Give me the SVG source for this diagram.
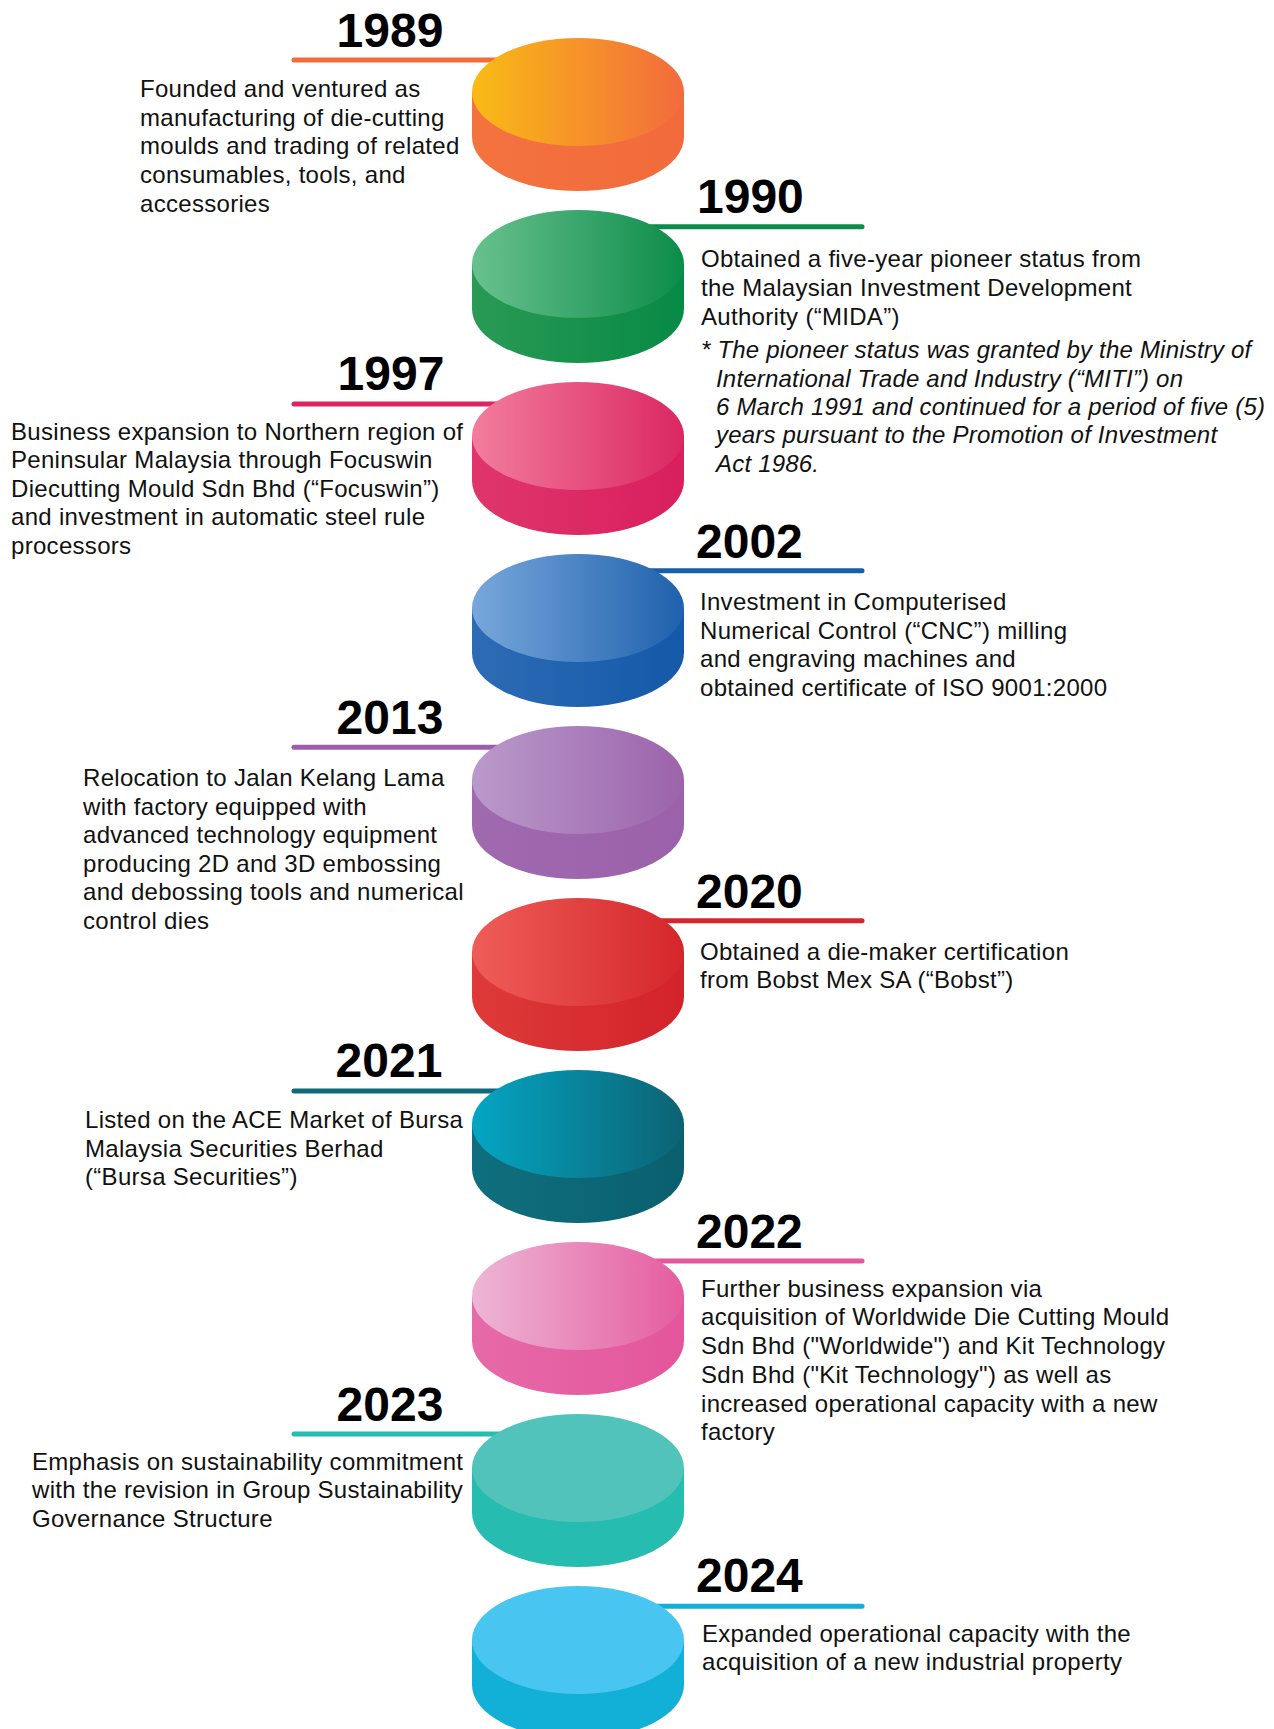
<svg xmlns="http://www.w3.org/2000/svg" width="1274" height="1729" viewBox="0 0 1274 1729">
<style>
.yr{font-family:"Liberation Sans",Arial,sans-serif;font-weight:bold;font-size:48px;fill:#000}
.yl{text-anchor:middle}
.tx{font-family:"Liberation Sans",Arial,sans-serif;font-size:24px;fill:#111;letter-spacing:0.3px}
.it{font-style:italic;letter-spacing:0.2px}
.ln{stroke-width:5;stroke-linecap:round;fill:none}
</style>
<defs>
<linearGradient id="t0"><stop offset="0" stop-color="#F9BB15"/><stop offset="1" stop-color="#F26B3D"/></linearGradient>
<linearGradient id="s0"><stop offset="0" stop-color="#F3733F"/><stop offset="1" stop-color="#F26A3B"/></linearGradient>
<linearGradient id="t1"><stop offset="0" stop-color="#69C18E"/><stop offset="1" stop-color="#0C8C49"/></linearGradient>
<linearGradient id="s1"><stop offset="0" stop-color="#2A9A55"/><stop offset="1" stop-color="#068A45"/></linearGradient>
<linearGradient id="t2"><stop offset="0" stop-color="#F27D9D"/><stop offset="1" stop-color="#DB2762"/></linearGradient>
<linearGradient id="s2"><stop offset="0" stop-color="#DF356C"/><stop offset="1" stop-color="#D91F5E"/></linearGradient>
<linearGradient id="t3"><stop offset="0" stop-color="#78A7DB"/><stop offset="1" stop-color="#1F61AD"/></linearGradient>
<linearGradient id="s3"><stop offset="0" stop-color="#2E6BB5"/><stop offset="1" stop-color="#1359A8"/></linearGradient>
<linearGradient id="t4"><stop offset="0" stop-color="#B99ACB"/><stop offset="1" stop-color="#9C63AB"/></linearGradient>
<linearGradient id="s4"><stop offset="0" stop-color="#A06AAF"/><stop offset="1" stop-color="#9B61AA"/></linearGradient>
<linearGradient id="t5"><stop offset="0" stop-color="#EF5D59"/><stop offset="1" stop-color="#D4262B"/></linearGradient>
<linearGradient id="s5"><stop offset="0" stop-color="#DE3A39"/><stop offset="1" stop-color="#D2232A"/></linearGradient>
<linearGradient id="t6"><stop offset="0" stop-color="#04A6C4"/><stop offset="1" stop-color="#0C6273"/></linearGradient>
<linearGradient id="s6"><stop offset="0" stop-color="#0F6F7E"/><stop offset="1" stop-color="#0A5F6E"/></linearGradient>
<linearGradient id="t7"><stop offset="0" stop-color="#EDB6D6"/><stop offset="1" stop-color="#E55C9F"/></linearGradient>
<linearGradient id="s7"><stop offset="0" stop-color="#E66AA8"/><stop offset="1" stop-color="#E4559C"/></linearGradient>
</defs>
<rect width="1274" height="1729" fill="#fff"/>
<g id="connectors">
<line class="ln" x1="294" y1="60" x2="520" y2="60" stroke="#F26B3A"/>
<line class="ln" x1="640" y1="226.7" x2="862" y2="226.7" stroke="#0E8B4C"/>
<line class="ln" x1="294" y1="404" x2="520" y2="404" stroke="#DB2461"/>
<line class="ln" x1="640" y1="570.7" x2="862" y2="570.7" stroke="#1A5EAA"/>
<line class="ln" x1="294" y1="747.3" x2="520" y2="747.3" stroke="#9B5FA9"/>
<line class="ln" x1="640" y1="920.7" x2="862" y2="920.7" stroke="#D7252D"/>
<line class="ln" x1="294" y1="1091" x2="520" y2="1091" stroke="#106878"/>
<line class="ln" x1="640" y1="1261" x2="862" y2="1261" stroke="#E4579D"/>
<line class="ln" x1="294" y1="1434" x2="520" y2="1434" stroke="#26BCAF"/>
<line class="ln" x1="640" y1="1606.3" x2="862" y2="1606.3" stroke="#12AFD6"/>
</g>
<g id="node-1989">
<path d="M472 92 L472 137 A106 54 0 0 0 684 137 L684 92 Z" fill="url(#s0)"/>
<ellipse cx="578" cy="92" rx="106" ry="54" fill="url(#t0)"/>
<text class="yr yl" x="390" y="46.7">1989</text>
<text class="tx" x="140" y="97">Founded and ventured as</text>
<text class="tx" x="140" y="125.7">manufacturing of die-cutting</text>
<text class="tx" x="140" y="154.4">moulds and trading of related</text>
<text class="tx" x="140" y="183.1">consumables, tools, and</text>
<text class="tx" x="140" y="211.8">accessories</text>
</g>
<g id="node-1990">
<path d="M472 264 L472 309 A106 54 0 0 0 684 309 L684 264 Z" fill="url(#s1)"/>
<ellipse cx="578" cy="264" rx="106" ry="54" fill="url(#t1)"/>
<text class="yr" x="697" y="213.3">1990</text>
<text class="tx" x="701" y="267.3">Obtained a five-year pioneer status from</text>
<text class="tx" x="701" y="296">the Malaysian Investment Development</text>
<text class="tx" x="701" y="324.7">Authority (“MIDA”)</text>
<text class="tx it" x="701" y="358.3">* The pioneer status was granted by the Ministry of</text>
<text class="tx it" x="716" y="386.7">International Trade and Industry (“MITI”) on</text>
<text class="tx it" x="716" y="415">6 March 1991 and continued for a period of five (5)</text>
<text class="tx it" x="716" y="443.3">years pursuant to the Promotion of Investment</text>
<text class="tx it" x="716" y="471.7">Act 1986.</text>
</g>
<g id="node-1997">
<path d="M472 436 L472 481 A106 54 0 0 0 684 481 L684 436 Z" fill="url(#s2)"/>
<ellipse cx="578" cy="436" rx="106" ry="54" fill="url(#t2)"/>
<text class="yr yl" x="391" y="390">1997</text>
<text class="tx" x="11" y="440">Business expansion to Northern region of</text>
<text class="tx" x="11" y="468.4">Peninsular Malaysia through Focuswin</text>
<text class="tx" x="11" y="496.8">Diecutting Mould Sdn Bhd (“Focuswin”)</text>
<text class="tx" x="11" y="525.2">and investment in automatic steel rule</text>
<text class="tx" x="11" y="553.6">processors</text>
</g>
<g id="node-2002">
<path d="M472 608 L472 653 A106 54 0 0 0 684 653 L684 608 Z" fill="url(#s3)"/>
<ellipse cx="578" cy="608" rx="106" ry="54" fill="url(#t3)"/>
<text class="yr" x="696" y="557.7">2002</text>
<text class="tx" x="700" y="610">Investment in Computerised</text>
<text class="tx" x="700" y="638.6">Numerical Control (“CNC”) milling</text>
<text class="tx" x="700" y="667.2">and engraving machines and</text>
<text class="tx" x="700" y="695.8">obtained certificate of ISO 9001:2000</text>
</g>
<g id="node-2013">
<path d="M472 780 L472 825 A106 54 0 0 0 684 825 L684 780 Z" fill="url(#s4)"/>
<ellipse cx="578" cy="780" rx="106" ry="54" fill="url(#t4)"/>
<text class="yr yl" x="390" y="734">2013</text>
<text class="tx" x="83" y="786">Relocation to Jalan Kelang Lama</text>
<text class="tx" x="83" y="814.6">with factory equipped with</text>
<text class="tx" x="83" y="843.2">advanced technology equipment</text>
<text class="tx" x="83" y="871.8">producing 2D and 3D embossing</text>
<text class="tx" x="83" y="900.4">and debossing tools and numerical</text>
<text class="tx" x="83" y="929">control dies</text>
</g>
<g id="node-2020">
<path d="M472 952 L472 997 A106 54 0 0 0 684 997 L684 952 Z" fill="url(#s5)"/>
<ellipse cx="578" cy="952" rx="106" ry="54" fill="url(#t5)"/>
<text class="yr" x="696" y="907.7">2020</text>
<text class="tx" x="700" y="960">Obtained a die-maker certification</text>
<text class="tx" x="700" y="988.4">from Bobst Mex SA (“Bobst”)</text>
</g>
<g id="node-2021">
<path d="M472 1124 L472 1169 A106 54 0 0 0 684 1169 L684 1124 Z" fill="url(#s6)"/>
<ellipse cx="578" cy="1124" rx="106" ry="54" fill="url(#t6)"/>
<text class="yr yl" x="389" y="1076.7">2021</text>
<text class="tx" x="85" y="1128.3">Listed on the ACE Market of Bursa</text>
<text class="tx" x="85" y="1156.8">Malaysia Securities Berhad</text>
<text class="tx" x="85" y="1185.3">(“Bursa Securities”)</text>
</g>
<g id="node-2022">
<path d="M472 1296 L472 1341 A106 54 0 0 0 684 1341 L684 1296 Z" fill="url(#s7)"/>
<ellipse cx="578" cy="1296" rx="106" ry="54" fill="url(#t7)"/>
<text class="yr" x="696" y="1247.7">2022</text>
<text class="tx" x="701" y="1296.7">Further business expansion via</text>
<text class="tx" x="701" y="1325.4">acquisition of Worldwide Die Cutting Mould</text>
<text class="tx" x="701" y="1354.1">Sdn Bhd ("Worldwide") and Kit Technology</text>
<text class="tx" x="701" y="1382.8">Sdn Bhd ("Kit Technology") as well as</text>
<text class="tx" x="701" y="1411.5">increased operational capacity with a new</text>
<text class="tx" x="701" y="1440.2">factory</text>
</g>
<g id="node-2023">
<path d="M472 1468 L472 1513 A106 54 0 0 0 684 1513 L684 1468 Z" fill="#26BCB0"/>
<ellipse cx="578" cy="1468" rx="106" ry="54" fill="#51C3BA"/>
<text class="yr yl" x="390" y="1420.7">2023</text>
<text class="tx" x="32" y="1470">Emphasis on sustainability commitment</text>
<text class="tx" x="32" y="1498.3">with the revision in Group Sustainability</text>
<text class="tx" x="32" y="1526.6">Governance Structure</text>
</g>
<g id="node-2024">
<path d="M472 1640 L472 1685 A106 54 0 0 0 684 1685 L684 1640 Z" fill="#12B0D7"/>
<ellipse cx="578" cy="1640" rx="106" ry="54" fill="#48C6F1"/>
<text class="yr" x="696" y="1591.7">2024</text>
<text class="tx" x="702" y="1641.7">Expanded operational capacity with the</text>
<text class="tx" x="702" y="1670">acquisition of a new industrial property</text>
</g>
</svg>
